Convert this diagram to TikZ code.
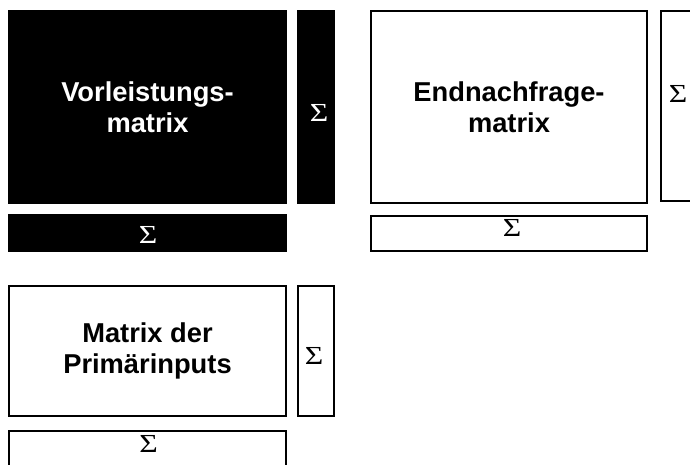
\documentclass[tikz,border=0pt]{standalone}
\usepackage{fontspec}
\usepackage{graphicx}
\setmainfont{Liberation Sans}
\newfontfamily\sigmafont{Liberation Serif}
\newcommand{\sumsign}{\scalebox{1.22}[1]{Σ}}
\begin{document}
\begin{tikzpicture}[x=1pt,y=-1pt,
  box/.style={draw=black,line width=1.8pt,inner sep=0pt,align=center,
    font=\fontsize{27.3}{31}\selectfont\bfseries},
  darkbox/.style={box,fill=black,text=white},
  lightbox/.style={box,fill=white,text=black},
  sig/.style={inner sep=0pt,font=\sigmafont\fontsize{26}{30}\selectfont}
]
\useasboundingbox[fill=white] (0,0) rectangle (690,464);
% Vorleistungsmatrix block
\node[darkbox,minimum width=277pt,minimum height=192pt] (vm) at (147.5,107) {Vorleistungs-\\matrix};
\node[darkbox,minimum width=36pt,minimum height=192pt] (vmr) at (316,107) {};
\node[darkbox,minimum width=277pt,minimum height=36pt] (vmb) at (147.5,233) {};
\node[sig,text=white] (vmrs) at (319,113) {\sumsign};
\node[sig,text=white] (vmbs) at (148,235) {\sumsign};
% Endnachfragematrix block
\node[lightbox,minimum width=276pt,minimum height=192pt] (em) at (509,107) {Endnachfrage-\\matrix};
\node[lightbox,minimum width=36pt,minimum height=190pt] (emr) at (679,106) {};
\node[lightbox,minimum width=276pt,minimum height=35pt] (emb) at (509,233.5) {};
\node[sig] (emrs) at (678,94) {\sumsign};
\node[sig] (embs) at (512,228) {\sumsign};
% Primaerinputs block
\node[lightbox,minimum width=277pt,minimum height=130pt] (pm) at (147.5,351) {Matrix der\\Primärinputs};
\node[lightbox,minimum width=36pt,minimum height=130pt] (pmr) at (316,351) {};
\node[lightbox,minimum width=277pt,minimum height=40pt] (pmb) at (147.5,451) {};
\node[sig] (pmrs) at (314,356) {\sumsign};
\node[sig] (pmbs) at (148.5,444) {\sumsign};
\end{tikzpicture}
\end{document}
